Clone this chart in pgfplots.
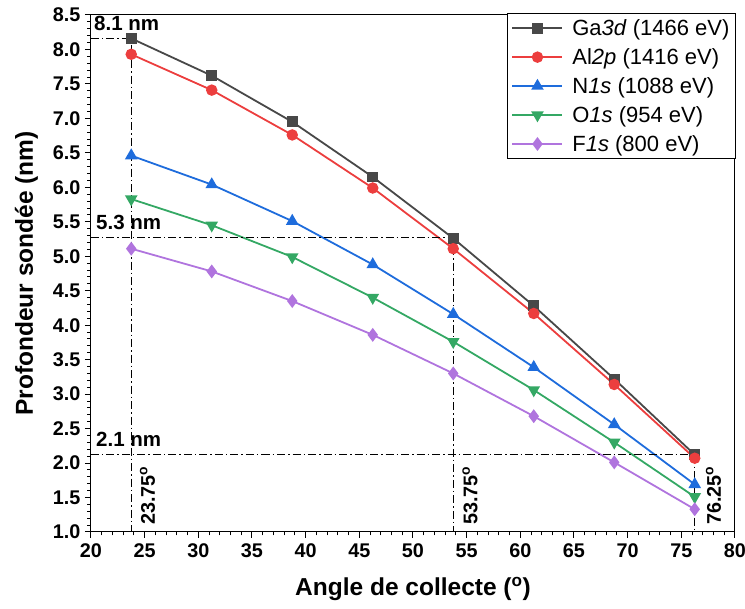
\documentclass[border=0pt]{standalone}
\usepackage{pgfplots}
\pgfplotsset{compat=1.18}
\usepackage{fontspec}
\setmainfont{Liberation Sans}
\usetikzlibrary{calc}
\definecolor{cGa}{RGB}{72,72,72}
\definecolor{cAl}{RGB}{236,62,62}
\definecolor{cN}{RGB}{30,108,220}
\definecolor{cO}{RGB}{52,168,100}
\definecolor{cF}{RGB}{176,116,222}
\begin{document}
\begin{tikzpicture}
\path[use as bounding box] (-91pt,-77pt) rectangle (654pt,532pt);
\begin{axis}[
  at={(0pt,0pt)}, anchor=south west,
  scale only axis, width=644pt, height=517pt,
  xmin=20, xmax=80, ymin=1, ymax=8.5,
  xtick={20,25,...,80}, ytick={1,1.5,...,8.5},
  minor x tick num=4, minor y tick num=4,
  xtick pos=bottom, ytick pos=left,
  tick align=outside,
  major tick length=6pt, minor tick length=3.5pt,
  every tick/.style={black, line width=1pt},
  axis line style={line width=1pt},
  /pgf/number format/assume math mode=true,
  yticklabel style={/pgf/number format/fixed, /pgf/number format/fixed zerofill, /pgf/number format/precision=1, xshift=-1pt},
  tick label style={font=\fontsize{19.8}{22}\selectfont\bfseries},
  xticklabel style={yshift=-2pt},
  xlabel={Angle de collecte (\textsuperscript{o})},
  ylabel={Profondeur sondée (nm)},
  label style={font=\fontsize{24.5}{28}\selectfont\bfseries},
  xlabel style={at={(axis description cs:0.5,-0.088)}, anchor=north, inner sep=0pt},
  ylabel style={at={(axis description cs:-0.082,0.5)}, anchor=south, inner sep=0pt},
  legend style={at={(rel axis cs:1,1)}, anchor=north east, yshift=2pt, xshift=1pt,
    font=\fontsize{22}{26}\selectfont, draw=black, line width=1pt,
    inner xsep=4pt, inner ysep=4pt, row sep=7.5pt,
    /tikz/every odd column/.append style={column sep=7pt}},
  legend cell align=left,
  legend image code/.code={\draw[mark repeat=2,mark phase=2,#1] plot coordinates {(0pt,0pt) (25pt,0pt) (50pt,0pt)};},
  every axis plot/.append style={line width=1.8pt},
]
\addplot[cGa, mark=square*, mark size=4.5pt, mark options={solid}] coordinates {
 (23.75,8.16) (31.25,7.62) (38.75,6.95) (46.25,6.15) (53.75,5.26) (61.25,4.28) (68.75,3.22) (76.25,2.12)};
\addlegendentry{Ga\textit{3d} (1466 eV)}
\addplot[cAl, mark=*, mark size=4.8pt] coordinates {
 (23.75,7.93) (31.25,7.41) (38.75,6.76) (46.25,5.99) (53.75,5.11) (61.25,4.17) (68.75,3.14) (76.25,2.07)};
\addlegendentry{Al\textit{2p} (1416 eV)}
\addplot[cN, mark=triangle*, mark size=5.5pt] coordinates {
 (23.75,6.46) (31.25,6.04) (38.75,5.51) (46.25,4.88) (53.75,4.16) (61.25,3.39) (68.75,2.56) (76.25,1.69)};
\addlegendentry{N\textit{1s} (1088 eV)}
\addplot[cO, mark=triangle*, mark size=5.5pt, mark options={rotate=180}] coordinates {
 (23.75,5.83) (31.25,5.45) (38.75,4.99) (46.25,4.40) (53.75,3.76) (61.25,3.06) (68.75,2.30) (76.25,1.51)};
\addlegendentry{O\textit{1s} (954 eV)}
\addplot[cF, mark=diamond*, mark size=5.5pt] coordinates {
 (23.75,5.11) (31.25,4.78) (38.75,4.35) (46.25,3.86) (53.75,3.30) (61.25,2.68) (68.75,2.01) (76.25,1.33)};
\addlegendentry{F\textit{1s} (800 eV)}
% reference lines
\draw[black, line width=1.4pt, dash pattern=on 8pt off 3pt on 1.5pt off 3pt]
  (axis cs:20,8.16) -- (axis cs:23.75,8.16) -- (axis cs:23.75,1);
\draw[black, line width=1.4pt, dash pattern=on 8pt off 3pt on 1.5pt off 3pt]
  (axis cs:20,5.27) -- (axis cs:53.75,5.27) -- (axis cs:53.75,1);
\draw[black, line width=1.4pt, dash pattern=on 8pt off 3pt on 1.5pt off 3pt]
  (axis cs:20,2.12) -- (axis cs:76.25,2.12) -- (axis cs:76.25,1);
\node[anchor=south west, inner sep=0pt, font=\fontsize{20.5}{22}\selectfont\bfseries] at ($(axis cs:20,8.16)+(3pt,8pt)$) {8.1 nm};
\node[anchor=south west, inner sep=0pt, font=\fontsize{20.5}{22}\selectfont\bfseries] at ($(axis cs:20,5.27)+(5pt,8pt)$) {5.3 nm};
\node[anchor=south west, inner sep=0pt, font=\fontsize{20.5}{22}\selectfont\bfseries] at ($(axis cs:20,2.12)+(5pt,8pt)$) {2.1 nm};
\node[rotate=90, anchor=north west, inner sep=0pt, font=\fontsize{19.8}{22}\selectfont\bfseries] at ($(axis cs:23.75,1)+(8.5pt,7pt)$) {23.75\textsuperscript{o}};
\node[rotate=90, anchor=north west, inner sep=0pt, font=\fontsize{19.8}{22}\selectfont\bfseries] at ($(axis cs:53.75,1)+(9pt,7pt)$) {53.75\textsuperscript{o}};
\node[rotate=90, anchor=north west, inner sep=0pt, font=\fontsize{19.8}{22}\selectfont\bfseries] at ($(axis cs:76.25,1)+(11pt,7pt)$) {76.25\textsuperscript{o}};
\end{axis}
\end{tikzpicture}
\end{document}
